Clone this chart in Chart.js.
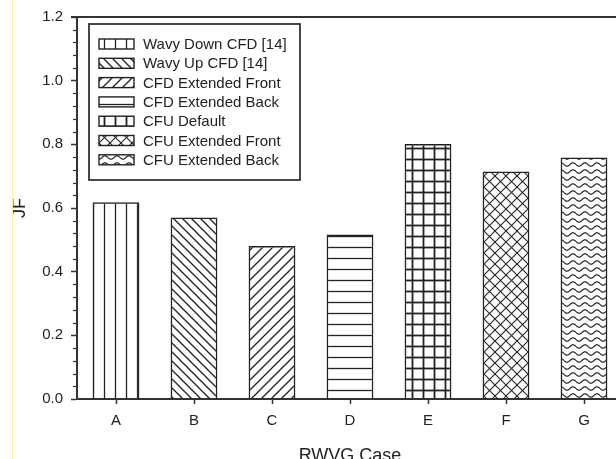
<!DOCTYPE html>
<html>
<head>
<meta charset="utf-8">
<title>JF por caso RWVG</title>
<script src="https://cdn.jsdelivr.net/npm/chart.js@4.4.1/dist/chart.umd.min.js"></script>
<style>
  html, body { margin: 0; padding: 0; background: #fff; overflow: hidden; }
  #wrap { position: relative; width: 616px; height: 459px; overflow: hidden; }
  #jf { position: absolute; left: 0; top: 0; }
  #edge { position: absolute; left: 12px; top: 0; width: 1px; height: 459px; background: #fbf1a0; }
</style>
</head>
<body>
<div id="wrap">
  <canvas id="jf" width="640" height="470"></canvas>
  <div id="edge"></div>
</div>
<script>
// casos y valores de JF
var casos = ["A", "B", "C", "D", "E", "F", "G"];
var series = [
  "Wavy Down CFD [14]",
  "Wavy Up CFD [14]",
  "CFD Extended Front",
  "CFD Extended Back",
  "CFU Default",
  "CFU Extended Front",
  "CFU Extended Back"
];
var valoresJF = [0.618, 0.570, 0.481, 0.517, 0.801, 0.715, 0.759];

var FUENTE = "'Liberation Sans', Arial, sans-serif";
var TINTA = "#222";

var canvas = document.getElementById("jf");
var ctx = canvas.getContext("2d");

// tramas para cada barra
function trama(w, h, dibujar, grosor) {
  var c = document.createElement("canvas");
  c.width = w;
  c.height = h;
  var g = c.getContext("2d");
  g.strokeStyle = TINTA;
  g.lineWidth = grosor || 1.3;
  dibujar(g, w, h);
  return ctx.createPattern(c, "repeat");
}
function linea(g, x1, y1, x2, y2) {
  g.beginPath();
  g.moveTo(x1, y1);
  g.lineTo(x2, y2);
  g.stroke();
}

var tramas = [
  // verticales
  trama(11, 11, function (g, w, h) { linea(g, 5.5, 0, 5.5, h); }),
  // diagonal \
  trama(9, 9, function (g, w, h) {
    linea(g, -1, -1, w + 1, h + 1);
    linea(g, -1, h - 1, 1, h + 1);
    linea(g, w - 1, -1, w + 1, 1);
  }),
  // diagonal /
  trama(10, 10, function (g, w, h) {
    linea(g, -1, h + 1, w + 1, -1);
    linea(g, -1, 1, 1, -1);
    linea(g, w - 1, h + 1, w + 1, h - 1);
  }),
  // horizontales
  trama(11, 11, function (g, w, h) { linea(g, 0, 5.5, w, 5.5); }),
  // cuadricula
  trama(11, 11, function (g, w, h) {
    linea(g, 5.5, 0, 5.5, h);
    linea(g, 0, 5.5, w, 5.5);
  }, 1.8),
  // rombos
  trama(11, 11, function (g, w, h) {
    linea(g, -1, -1, w + 1, h + 1);
    linea(g, -1, h + 1, w + 1, -1);
    linea(g, -1, h - 1, 1, h + 1);
    linea(g, w - 1, -1, w + 1, 1);
  }, 1.1),
  // ondas
  trama(12, 7, function (g, w, h) {
    g.beginPath();
    for (var x = 0; x <= w; x += 0.5) {
      var y = h / 2 + 1.7 * Math.sin((2 * Math.PI * x) / w);
      if (x === 0) g.moveTo(x, y); else g.lineTo(x, y);
    }
    g.stroke();
  }, 1.2)
];

// un dataset por serie, cada uno con su caso
var datasets = series.map(function (nombre, i) {
  return {
    label: nombre,
    data: casos.map(function (c, j) { return j === i ? valoresJF[i] : null; }),
    backgroundColor: tramas[i],
    borderColor: TINTA,
    borderWidth: 1.5,
    borderSkipped: "bottom",
    grouped: false,
    categoryPercentage: 1,
    barPercentage: 0.6
  };
});

// ticks menores del eje y y linea superior del marco
var marco = {
  id: "marco",
  afterDraw: function (chart) {
    var a = chart.chartArea;
    var y = chart.scales.y;
    var c = chart.ctx;
    c.save();
    c.strokeStyle = "#333";
    c.lineWidth = 1.2;
    for (var k = 1; k <= 30; k++) {
      if (k % 5 === 0) continue;
      var py = Math.round(y.getPixelForValue(k * 0.04)) + 0.5;
      c.beginPath();
      c.moveTo(a.left - 4, py);
      c.lineTo(a.left, py);
      c.stroke();
    }
    c.lineWidth = 2;
    c.beginPath();
    c.moveTo(a.left - 6, a.top);
    c.lineTo(a.right, a.top);
    c.stroke();
    c.restore();
  }
};

// leyenda dentro del area del grafico
var leyenda = {
  id: "leyenda",
  afterDraw: function (chart) {
    var a = chart.chartArea;
    var c = chart.ctx;
    var x0 = a.left + 12, y0 = a.top + 7, w = 211, h = 156;
    c.save();
    c.strokeStyle = "#333";
    c.lineWidth = 1.8;
    c.strokeRect(x0, y0, w, h);
    c.font = "15px " + FUENTE;
    c.fillStyle = TINTA;
    c.textBaseline = "middle";
    chart.data.datasets.forEach(function (ds, i) {
      var cy = y0 + 20 + i * 19.3;
      c.fillStyle = "#fff";
      c.fillRect(x0 + 10, cy - 5, 35, 10);
      c.fillStyle = ds.backgroundColor;
      c.fillRect(x0 + 10, cy - 5, 35, 10);
      c.lineWidth = 1.4;
      c.strokeStyle = TINTA;
      c.strokeRect(x0 + 10, cy - 5, 35, 10);
      c.fillStyle = TINTA;
      c.fillText(ds.label, x0 + 54, cy + 1);
    });
    c.restore();
  }
};

new Chart(ctx, {
  type: "bar",
  data: { labels: casos, datasets: datasets },
  plugins: [marco, leyenda],
  options: {
    responsive: false,
    animation: false,
    layout: { padding: { left: 9, top: 16, right: 17, bottom: 3 } },
    plugins: {
      legend: { display: false },
      tooltip: { enabled: false }
    },
    scales: {
      x: {
        grid: { display: true, drawOnChartArea: false, offset: false, tickLength: 5, tickColor: "#333", tickWidth: 1.5 },
        border: { display: true, color: "#333", width: 2 },
        ticks: { color: TINTA, padding: 8, font: { family: FUENTE, size: 15 } },
        title: { display: true, text: "RWVG Case", color: TINTA, padding: 0, font: { family: FUENTE, size: 18 } },
        afterFit: function (s) { s.height = 68; }
      },
      y: {
        min: 0,
        max: 1.2,
        ticks: {
          stepSize: 0.2,
          color: TINTA,
          padding: 8,
          font: { family: FUENTE, size: 15 },
          callback: function (v) { return Number(v).toFixed(1); }
        },
        grid: { display: true, drawOnChartArea: false, tickLength: 6, tickColor: "#333", tickWidth: 1.5 },
        border: { display: true, color: "#333", width: 2 },
        title: { display: true, text: "JF", color: TINTA, padding: 0, font: { family: FUENTE, size: 18 } },
        afterFit: function (s) { s.width = 68; }
      }
    }
  }
});
</script>
</body>
</html>
